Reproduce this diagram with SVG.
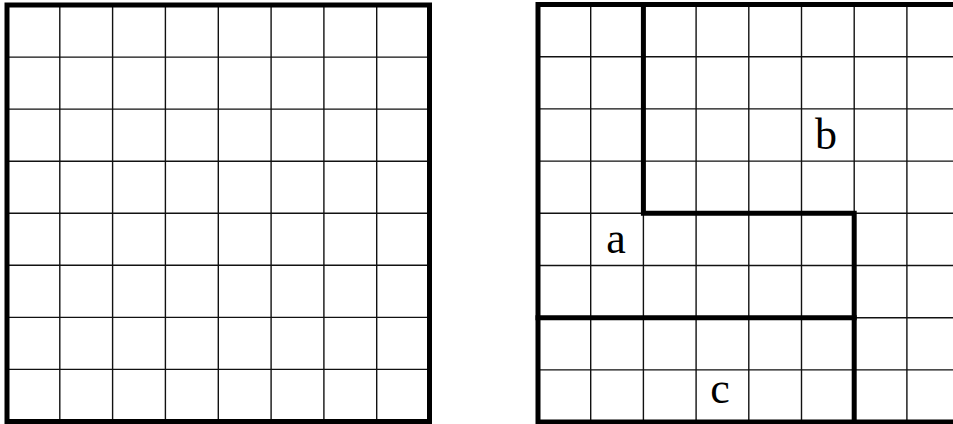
<svg xmlns="http://www.w3.org/2000/svg" width="953" height="424" viewBox="0 0 953 424">
<style>
.thin{stroke:#111;stroke-width:1.4;fill:none}
.thick{stroke:#000;stroke-width:5;fill:none;stroke-linecap:square;stroke-linejoin:miter}
.lbl{font-family:"Liberation Serif","Times New Roman",serif;font-size:44px;fill:#000;text-anchor:middle}
</style>
<rect width="953" height="424" fill="#fff"/>
<g id="left-grid">
<path class="thin" d="M59.8 5V421.5M112.6 5V421.5M165.4 5V421.5M218.3 5V421.5M271.1 5V421.5M323.9 5V421.5M376.7 5V421.5M7 57.1H429.5M7 109.1H429.5M7 161.2H429.5M7 213.3H429.5M7 265.3H429.5M7 317.4H429.5M7 369.4H429.5"/>
<rect class="thick" x="7" y="5" width="422.5" height="416.5"/>
</g>
<g id="right-grid">
<path class="thin" d="M590.7 4.5V422M643.4 4.5V422M696.1 4.5V422M748.8 4.5V422M801.5 4.5V422M854.2 4.5V422M906.9 4.5V422M538 56.7H960M538 108.9H960M538 161.1H960M538 213.3H960M538 265.5H960M538 317.7H960M538 369.9H960"/>
<path class="thick" d="M960 4.5H538V422H960"/>
<path class="thick" d="M643.4 4.5V213.3H854.2V422"/>
<path class="thick" d="M538 317.7H854.2"/>
</g>
<g id="labels">
<text class="lbl" x="616" y="253">a</text>
<text class="lbl" x="826" y="149">b</text>
<text class="lbl" x="720" y="403">c</text>
</g>
</svg>
